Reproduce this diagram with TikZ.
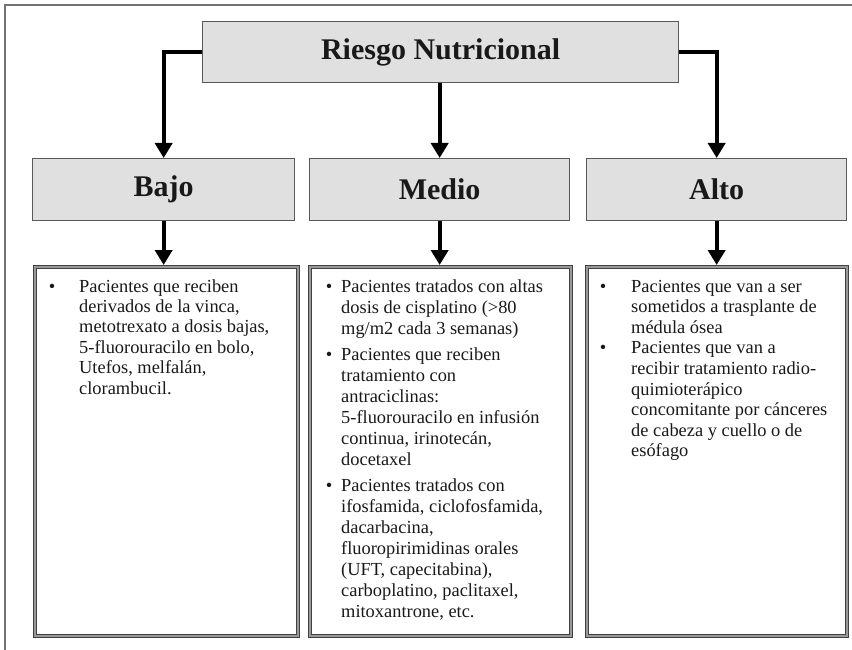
\documentclass[tikz,border=0pt]{standalone}
\usepackage{fontspec}
\setmainfont{Liberation Serif}
\usetikzlibrary{arrows.meta}
\begin{document}
\begin{tikzpicture}[x=1pt,y=-1pt,
  hbox/.style={draw=black!65, line width=1.3pt, fill=black!12, inner sep=0pt, anchor=north west,
    font=\fontsize{30}{34}\selectfont\bfseries, text=black!90},
  lbox/.style={draw=black!75, line width=1.2pt, double=black!40, double distance=1.5pt,
    inner sep=0pt, outer sep=2.1pt, anchor=north west},
  conn/.style={line width=3.8pt, -{Triangle[length=15pt,width=17pt]}, line join=miter},
  body/.style={font=\fontsize{18.4}{#1}\selectfont, align=left, inner sep=0pt, anchor=base west, text=black!90},
  bul/.style={font=\fontsize{18.4}{20}\selectfont, inner sep=0pt, anchor=base, text=black!90}]
\useasboundingbox (0,0) rectangle (852,650);
% outer frame
\draw[black!55, line width=1.5pt] (852,5) -- (5,5) -- (5,650);
% header boxes
\node[hbox, minimum width=476pt, minimum height=61pt] (top) at (202,21) {Riesgo Nutricional};
\node[hbox, minimum width=262pt, minimum height=62pt] (bajo) at (32,158) {Bajo};
\node[hbox, minimum width=260pt, minimum height=62pt] (medio) at (309,158) {Medio};
\node[hbox, minimum width=260pt, minimum height=62pt] (alto) at (586,158) {Alto};
% list boxes
\node[lbox, minimum width=263pt, minimum height=369pt] (bajoL) at (33,265) {};
\node[lbox, minimum width=261pt, minimum height=369pt] (medioL) at (308,265) {};
\node[lbox, minimum width=260pt, minimum height=369pt] (altoL) at (585,265) {};
% connectors
\draw[conn] (top.west) -| (bajo.north);
\draw[conn] (top.east) -| (alto.north);
\draw[conn] (top.south -| medio.north) -- (medio.north);
\draw[conn] (bajo.south) -- (bajo.south |- bajoL.north);
\draw[conn] (medio.south) -- (medio.south |- medioL.north);
\draw[conn] (alto.south) -- (alto.south |- altoL.north);
% Bajo text (base anchor = baseline of last line)
\node[bul] (b1) at (52,292) {•};
\node[body=20.4] (t1) at (79,394) {Pacientes que reciben\\derivados de la vinca,\\metotrexato a dosis bajas,\\5-fluorouracilo en bolo,\\Utefos, melfalán,\\clorambucil.};
% Medio text
\node[bul] (m1) at (329,292) {•};
\node[body=21] (tm1) at (341,334) {Pacientes tratados con altas\\dosis de cisplatino (>80\\mg/m2 cada 3 semanas)};
\node[bul] (m2) at (329,360) {•};
\node[body=21] (tm2) at (341,465) {Pacientes que reciben\\tratamiento con\\antraciclinas:\\5-fluorouracilo en infusión\\continua, irinotecán,\\docetaxel};
\node[bul] (m3) at (329,491) {•};
\node[body=21] (tm3) at (341,617) {Pacientes tratados con\\ifosfamida, ciclofosfamida,\\dacarbacina,\\fluoropirimidinas orales\\(UFT, capecitabina),\\carboplatino, paclitaxel,\\mitoxantrone, etc.};
% Alto text
\node[bul] (a1) at (603,292) {•};
\node[body=20.6] (ta1) at (631,333.2) {Pacientes que van a ser\\sometidos a trasplante de\\médula ósea};
\node[bul] (a2) at (603,353.8) {•};
\node[body=20.6] (ta2) at (631,456.8) {Pacientes que van a\\recibir tratamiento radio-\\quimioterápico\\concomitante por cánceres\\de cabeza y cuello o de\\esófago};
\end{tikzpicture}
\end{document}
